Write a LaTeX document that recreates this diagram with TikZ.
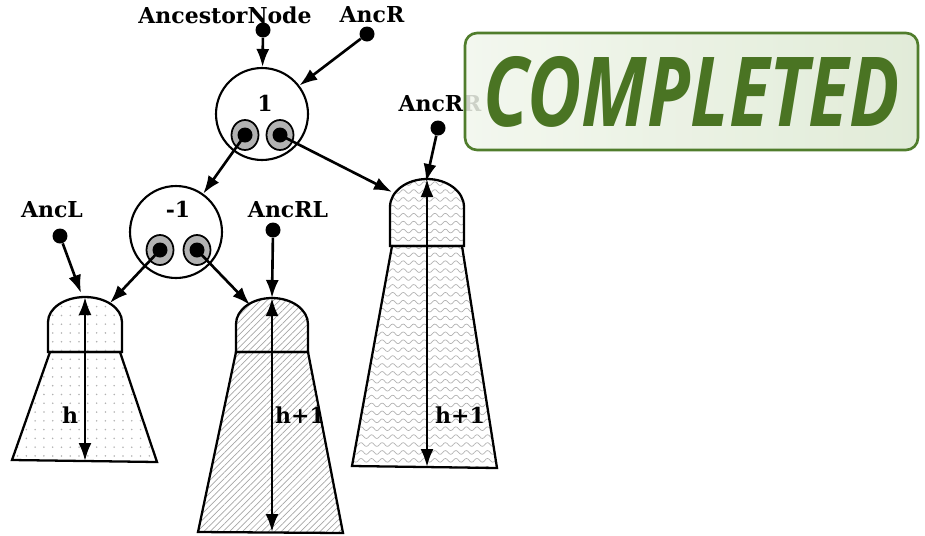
\documentclass[tikz,border=0pt]{standalone}
\usepackage{fontspec}
\setmainfont{DejaVu Serif}
\newfontfamily\bannerfont{Open Sans}
\usetikzlibrary{positioning,arrows.meta,patterns,patterns.meta,shapes.geometric}

\pgfdeclarepatternformonly{wavy}{\pgfqpoint{-1pt}{-1pt}}{\pgfqpoint{7pt}{6pt}}{\pgfqpoint{6pt}{4.5pt}}{
  \pgfsetlinewidth{0.4pt}
  \pgfpathmoveto{\pgfqpoint{0pt}{2pt}}
  \pgfpathcurveto{\pgfqpoint{1pt}{3.4pt}}{\pgfqpoint{2pt}{3.4pt}}{\pgfqpoint{3pt}{2pt}}
  \pgfpathcurveto{\pgfqpoint{4pt}{0.6pt}}{\pgfqpoint{5pt}{0.6pt}}{\pgfqpoint{6pt}{2pt}}
  \pgfusepath{stroke}
}

\definecolor{bannergreen}{HTML}{4A7423}
\definecolor{bannerline}{HTML}{507D2C}
\definecolor{bannerleft}{HTML}{F1F6EC}
\definecolor{bannerright}{HTML}{DCE8D1}

\begin{document}
\begin{tikzpicture}[x=0.02cm, y=-0.02cm]
\tikzset{
    lbl/.style={font=\bfseries\fontsize{12.5}{14}\selectfont, inner sep=0pt},
    vtx/.style={circle, draw, line width=1.2pt, minimum size=1.84cm, inner sep=0pt, fill=white},
    port/.style={ellipse, draw, line width=1pt, fill=black!30, minimum width=0.54cm, minimum height=0.6cm, inner sep=0pt},
    pin/.style={circle, fill=black, minimum size=0.3cm, inner sep=0pt},
    tree/.style={draw, line width=1.3pt},
    arrow/.style={-{Latex[length=3.6mm,width=2.6mm]}, line width=1.5pt},
    height/.style={{Latex[length=3.6mm,width=2.6mm]}-{Latex[length=3.6mm,width=2.6mm]}, line width=1.5pt}
}
\useasboundingbox (0,0) rectangle (925,535);

% subtrees
\draw[tree, pattern={Dots[distance=5pt,radius=0.5pt]}, pattern color=black!30]
  (50,352) -- (120,352) -- (157,462) -- (12,460) -- cycle;
\draw[tree, pattern={Dots[distance=5pt,radius=0.5pt]}, pattern color=black!30]
  (48,352) -- (48,322) arc[start angle=180, end angle=0, x radius=0.74cm, y radius=0.5cm] -- (122,352) -- cycle;
\draw[tree, pattern={Lines[angle=45,distance=2.6pt,line width=0.4pt]}, pattern color=black!35]
  (236,352) -- (308,352) -- (343,533) -- (198,532) -- cycle;
\draw[tree, pattern={Lines[angle=45,distance=2.6pt,line width=0.4pt]}, pattern color=black!35]
  (236,352) -- (236,324) arc[start angle=180, end angle=0, x radius=0.72cm, y radius=0.52cm] -- (308,352) -- cycle;
\draw[tree, pattern=wavy, pattern color=black!30]
  (392,246) -- (462,246) -- (497,468) -- (352,466) -- cycle;
\draw[tree, pattern=wavy, pattern color=black!30]
  (390,246) -- (390,207) arc[start angle=180, end angle=0, x radius=0.74cm, y radius=0.56cm] -- (464,246) -- cycle;

\coordinate (lTop) at (85,297);
\coordinate (lBot) at (85,461);
\coordinate (mTop) at (272,298);
\coordinate (mBot) at (272,532);
\coordinate (rTop) at (427,179);
\coordinate (rBot) at (427,467);
\coordinate (lEntry) at (110,303);
\coordinate (mEntry) at (250,305);
\coordinate (rEntry) at (392,192);
\coordinate (lIn) at (81,293);
\coordinate (rIn) at (426,182);

\draw[height] (lTop) -- (lBot);
\draw[height] (mTop) -- (mBot);
\draw[height] (rTop) -- (rBot);

\node[lbl] (hL) at (70,415) {h};
\node[lbl] (hM) at (300,415) {h+1};
\node[lbl] (hR) at (460,415) {h+1};

% nodes
\node[vtx] (n1) at (262,114) {};
\node[lbl] (n1val) at (265,103) {1};
\node[port] (n1l) at (245,135) {};
\node[port] (n1r) at (280,135) {};
\node[pin] (n1ld) at (n1l) {};
\node[pin] (n1rd) at (n1r) {};

\node[vtx] (nm1) at (176,232) {};
\node[lbl] (nm1val) at (178,209) {-1};
\node[port] (nm1l) at (160,250) {};
\node[port] (nm1r) at (197,250) {};
\node[pin] (nm1ld) at (nm1l) {};
\node[pin] (nm1rd) at (nm1r) {};

% pointers
\node[lbl] (ancName) at (225,15) {AncestorNode};
\node[pin] (ancDot) at (263,30) {};
\node[lbl] (ancRName) at (372,15) {AncR};
\node[pin] (ancRDot) at (367,34) {};
\node[lbl] (ancLName) at (52,210) {AncL};
\node[pin] (ancLDot) at (60,236) {};
\node[lbl] (ancRLName) at (288,210) {AncRL};
\node[pin] (ancRLDot) at (273,230) {};
\node[lbl] (ancRRName) at (440,104) {AncRR};
\node[pin] (ancRRDot) at (438,128) {};

\draw[arrow] (ancDot) -- (n1);
\draw[arrow] (ancRDot) -- (n1);
\draw[arrow] (n1l.center) -- (nm1);
\draw[arrow] (n1r.center) -- (rEntry);
\draw[arrow] (nm1l.center) -- (lEntry);
\draw[arrow] (nm1r.center) -- (mEntry);
\draw[arrow] (ancLDot) -- (lIn);
\draw[arrow] (ancRLDot) -- (mTop);
\draw[arrow] (ancRRDot) -- (rIn);

% banner
\node[draw=bannerline, line width=1.5pt, rounded corners=0.24cm, fill opacity=0.85, text opacity=1,
  left color=bannerleft, right color=bannerright,
  minimum width=9.06cm, minimum height=2.34cm, inner sep=0pt] (banner) at (691.5,91.5)
  {\bannerfont\bfseries\itshape\color{bannergreen}\fontsize{55}{60}\selectfont\scalebox{0.77}[1]{COMPLETED}};
\end{tikzpicture}
\end{document}
